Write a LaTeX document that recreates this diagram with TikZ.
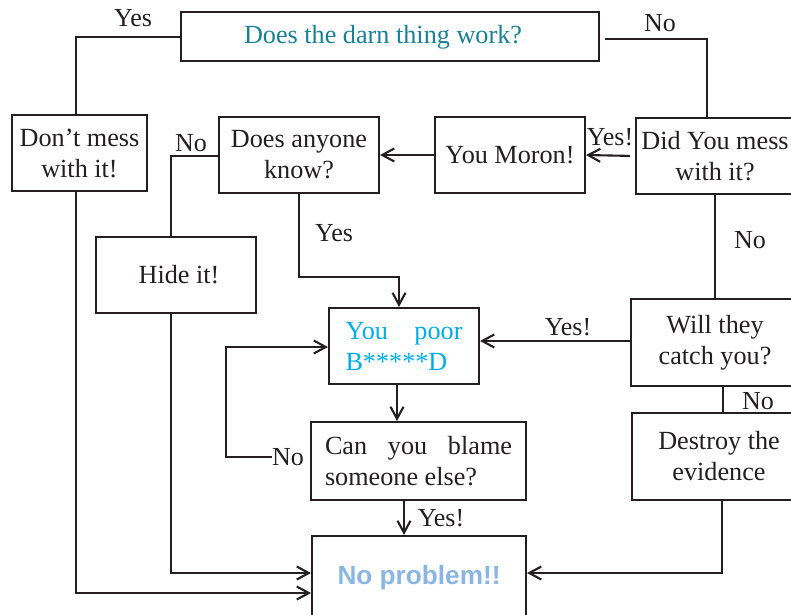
\documentclass[tikz,border=0pt]{standalone}
\usepackage{fontspec}
\setmainfont{Liberation Serif}
\newfontfamily\sansbold{Liberation Sans}
\usetikzlibrary{arrows.meta}
\definecolor{ink}{RGB}{35,31,32}
\definecolor{tealtxt}{RGB}{26,128,148}
\definecolor{cyantxt}{RGB}{0,172,232}
\definecolor{softblue}{RGB}{140,182,226}
\begin{document}
\begin{tikzpicture}[x=1pt,y=-1pt,
  box/.style={draw=ink, line width=2.1pt, rectangle, inner sep=0pt, text=ink,
    font=\fontsize{26.2}{31}\selectfont, align=center},
  lbl/.style={inner sep=0pt, text=ink, font=\fontsize{26}{28}\selectfont},
  conn/.style={draw=ink, line width=2.1pt},
  arr/.style={conn, -{Straight Barb[length=12pt,width=13pt]}}]
\useasboundingbox (0,0) rectangle (791,614);
\clip (0,0) rectangle (791,614);

% boxes
\node[box, minimum width=418pt, minimum height=49pt, text=tealtxt] (title) at (390,36.8) {\raisebox{1.5pt}{Does the darn thing work?}\hspace*{14pt}};
\node[box, minimum width=135pt, minimum height=76pt] (dont) at (79.5,153) {Don’t mess\\with it!};
\node[box, minimum width=160pt, minimum height=76pt] (anyone) at (299,155) {Does anyone\\know?};
\node[box, minimum width=150pt, minimum height=76pt] (moron) at (510,155) {You Moron!};
\node[box, minimum width=158pt, minimum height=76pt] (mess) at (715,156) {Did You mess\\with it?};
\node[box, minimum width=160pt, minimum height=76pt] (hide) at (176,275) {\hspace*{6pt}Hide it!};
\node[box, minimum width=150pt, minimum height=76pt, text=cyantxt] (poor) at (404,346) {\parbox{117pt}{You\hfill poor\\B*****D}};
\node[box, minimum width=168pt, minimum height=87pt] (catch) at (715,342.5) {Will they\\catch you?};
\node[box, minimum width=215pt, minimum height=78pt] (blame) at (418.5,461) {\parbox{187pt}{Can\hfill you\hfill blame\\someone else?}};
\node[box, minimum width=174pt, minimum height=87pt] (destroy) at (719,456.5) {Destroy the\\evidence};
\node[box, minimum width=214pt, minimum height=84pt, text=softblue, font=\sansbold\bfseries\fontsize{26.2}{30}\selectfont] (noprob) at (419,578) {\raisebox{6pt}{No problem!!}};

% labels
\node[lbl] (lyes1) at (133,18) {Yes};
\node[lbl] (lno1) at (660,23) {No};
\node[lbl] (lyes2) at (610,137) {Yes!};
\node[lbl] (lno2) at (191,143) {No};
\node[lbl] (lyes3) at (334,233) {Yes};
\node[lbl] (lno3) at (750,240) {No};
\node[lbl] (lyes4) at (568,327) {Yes!};
\node[lbl] (lno4) at (758,401) {No};
\node[lbl] (lno5) at (288,457) {No};
\node[lbl] (lyes5) at (441,518) {Yes!};

% connectors
\draw[conn] (title.west) -| ([xshift=-3.5pt]dont.north);
\draw[conn, shorten <=5pt] ([yshift=-2pt]title.east) -| ([xshift=-8pt]mess.north);
\draw[arr, shorten <=5pt] (mess.west) -- (moron.east);
\draw[arr] (moron.west) -- (anyone.east);
\draw[conn] ([yshift=-1pt]anyone.west) -| ([xshift=-5pt]hide.north);
\draw[conn] (mess.south) -- (catch.north);
\draw[conn] ([xshift=8pt]catch.south) -- ([xshift=8pt]catch.south |- destroy.north);
\coordinate (j1) at (399,277);
\draw[arr] (anyone.south) |- (j1) -- ([xshift=-5pt]poor.north);
\draw[arr] ([yshift=1.5pt]catch.west) -- ([yshift=1.5pt]catch.west -| poor.east);
\draw[arr] ([xshift=-7pt]poor.south) -- ([xshift=-7pt]poor.south |- blame.north);
\draw[arr] ([xshift=-14.5pt]blame.south) -- ([xshift=-14.5pt]blame.south |- noprob.north);
\coordinate (c2) at (226,347);
\draw[arr] (lno5.west) -| (c2) -- (c2 -| poor.west);
\draw[arr] ([xshift=-5pt]hide.south) |- ([yshift=5pt]noprob.west);
\draw[arr] ([xshift=-3.5pt]dont.south) |- ([yshift=-15pt]noprob.west);
\draw[arr] ([xshift=3pt]destroy.south) |- ([yshift=5pt]noprob.east);
\end{tikzpicture}
\end{document}
